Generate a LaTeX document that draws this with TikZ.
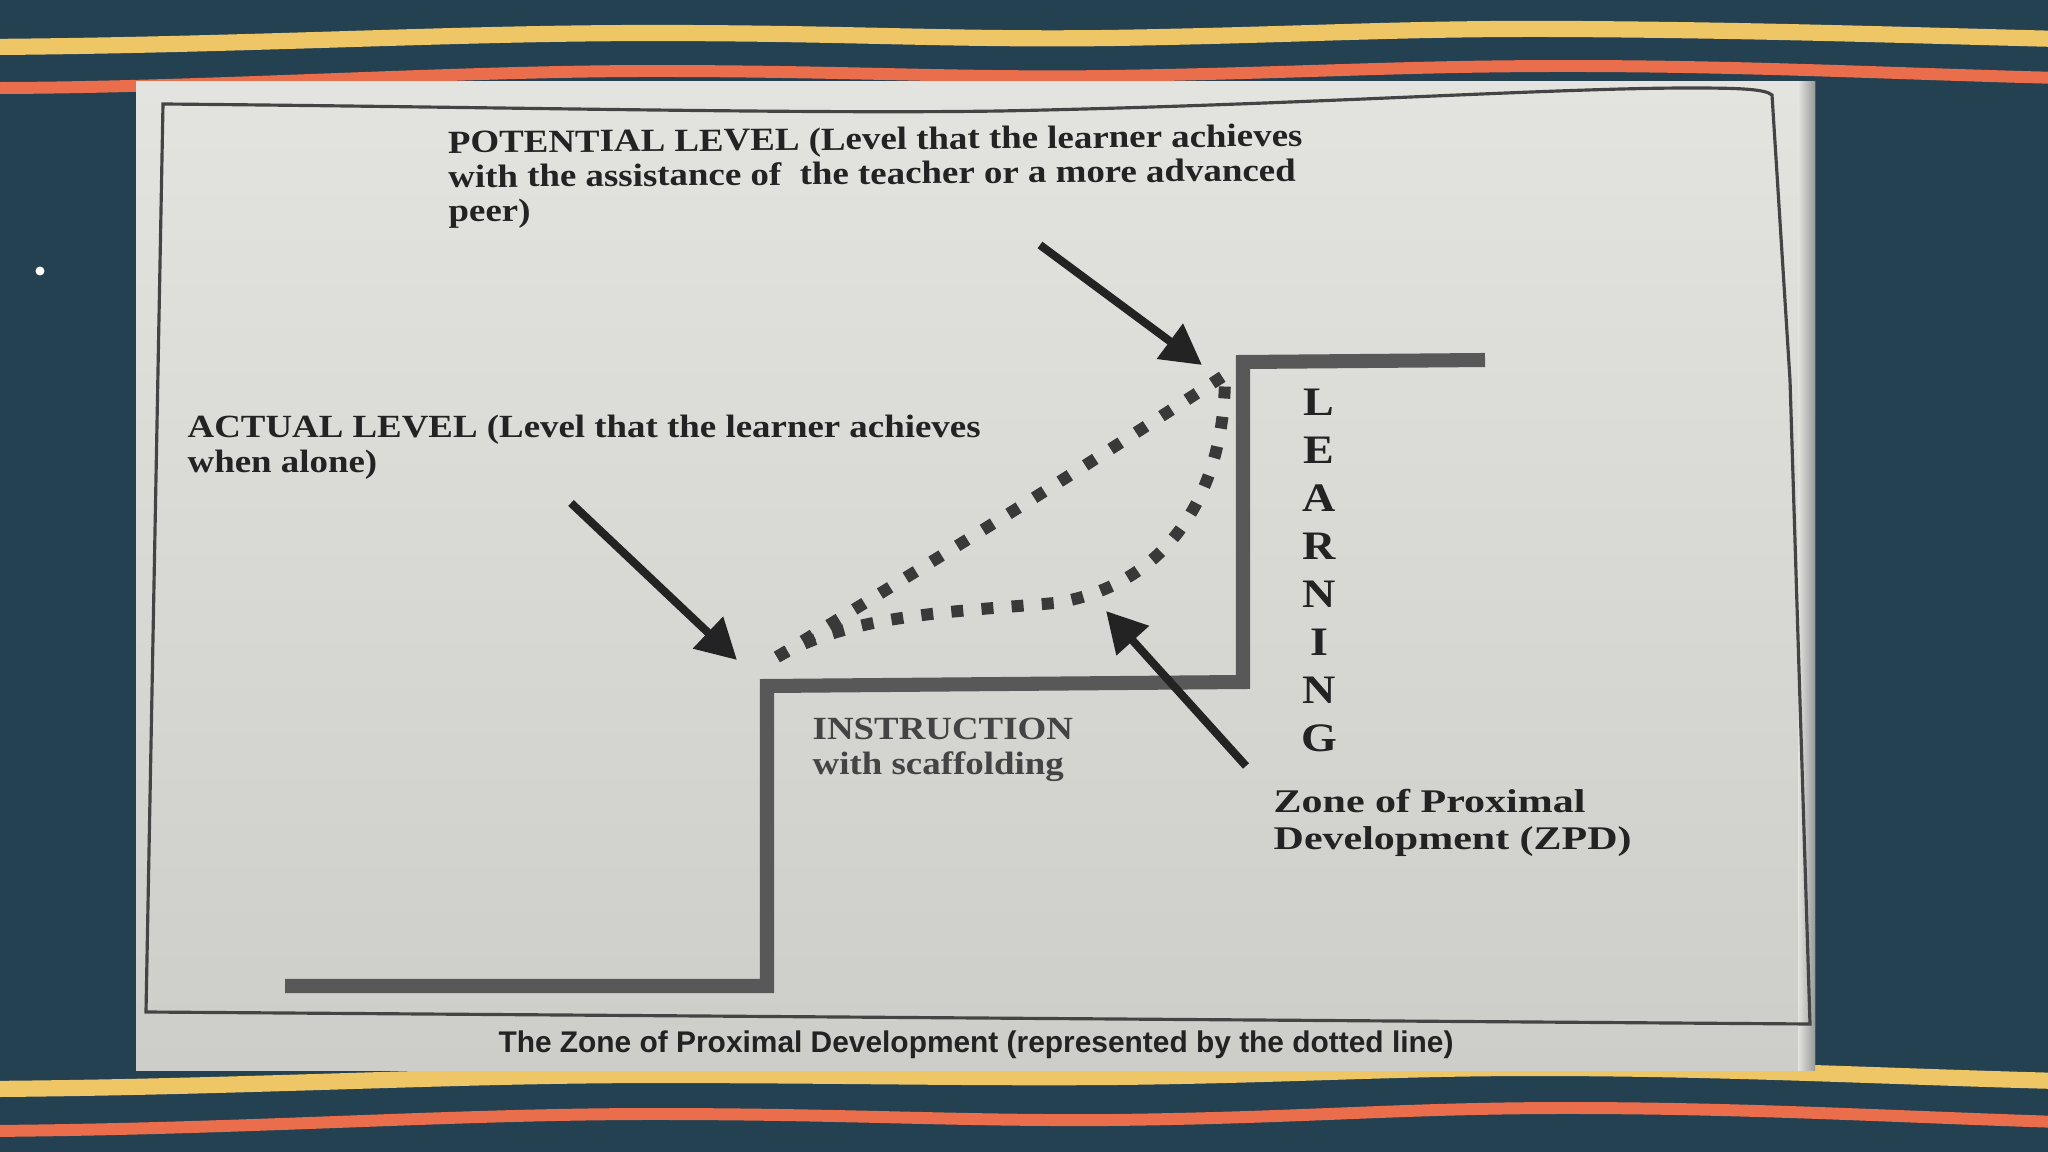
\documentclass[tikz,border=0pt]{standalone}
\usepackage{fontspec}
\setmainfont{Liberation Serif}
\newfontfamily\bookfont[FakeStretch=1.14]{Liberation Serif}
\newfontfamily\zonefont[FakeStretch=1.27]{Liberation Serif}
\newfontfamily\capfont{Liberation Sans}
\usetikzlibrary{arrows.meta}

\definecolor{slidenavy}{RGB}{36,65,82}
\definecolor{waveyellow}{RGB}{238,198,102}
\definecolor{waveorange}{RGB}{234,110,76}
\definecolor{paperlight}{RGB}{227,227,223}
\definecolor{paperdark}{RGB}{205,205,201}
\definecolor{inkblack}{RGB}{35,35,35}
\definecolor{stepgray}{RGB}{88,88,88}

\tikzset{
	booklabel/.style={font=\bookfont\bfseries\fontsize{9.2}{9.8}\selectfont, align=left, inner sep=0pt, text=inkblack},
	zonelabel/.style={font=\zonefont\bfseries\fontsize{9.4}{10.5}\selectfont, align=left, inner sep=0pt, text=inkblack},
	learnlabel/.style={font=\bookfont\bfseries\fontsize{11.5}{13.66}\selectfont, align=center, inner sep=0pt, text=inkblack},
	pointer/.style={draw=inkblack, line width=2.3pt, -{Triangle[length=0.4cm,width=0.42cm]}},
	stairline/.style={draw=stepgray, line width=4pt, line join=miter},
	zpddots/.style={draw=inkblack!90, line width=3.4pt, dash pattern=on 3.4pt off 5.2pt},
	wave/.style={line width=#1, line cap=round}
}

\begin{document}
\begin{tikzpicture}[x=0.01cm, y=-0.01cm]
	\useasboundingbox (0,0) rectangle (2048,1152);
	\clip (0,0) rectangle (2048,1152);
	\fill[slidenavy] (0,0) rectangle (2048,1152);
	
	% Waves top and bottom
	\draw[wave=4.6pt, waveyellow] (-10,47) .. controls (250,45) and (450,33) .. (653,33) .. controls (850,33) and (950,40) .. (1110,38) .. controls (1300,35) and (1400,28) .. (1567,29) .. controls (1750,30) and (1900,35) .. (2060,39);
	\draw[wave=3.4pt, waveorange] (-10,88) .. controls (200,88) and (450,71) .. (653,71) .. controls (850,71) and (950,78) .. (1110,76) .. controls (1300,73) and (1400,66) .. (1567,66) .. controls (1750,66) and (1900,74) .. (2060,78);
	\draw[wave=4.6pt, waveyellow] (-10,1089) .. controls (250,1087) and (450,1075) .. (653,1075) .. controls (850,1075) and (950,1078) .. (1110,1077) .. controls (1300,1075) and (1400,1067) .. (1567,1068) .. controls (1750,1069) and (1900,1077) .. (2060,1081);
	\draw[wave=3.4pt, waveorange] (-10,1131) .. controls (250,1129) and (450,1114) .. (653,1114) .. controls (850,1114) and (950,1121) .. (1110,1120) .. controls (1300,1118) and (1400,1108) .. (1567,1108) .. controls (1750,1108) and (1900,1117) .. (2060,1122);
	
	\node[circle, fill=white, inner sep=0pt, minimum size=9*0.01cm] (Bullet) at (40,271) {};
	
	% Define photo of the page
	\shade[top color=paperlight, bottom color=paperdark] (136,82) rectangle (1815,1070);
	\shade[left color=paperlight, right color=black!40] (1798,82) rectangle (1815,1070);
	\draw[inkblack!85, line width=0.9pt] (163,104) .. controls (500,107) and (800,114) .. (1000,111) .. controls (1300,105) and (1550,88) .. (1690,88) .. controls (1740,88) and (1765,89) .. (1772,95) -- (1790,380) -- (1810,1024) -- (146,1012) -- cycle;
	
	% Define staircase
	\coordinate (StepA) at (285,986);
	\coordinate (StepB) at (767,986);
	\coordinate (StepC) at (767,686);
	\coordinate (StepD) at (1243,682);
	\coordinate (StepE) at (1243,362);
	\coordinate (StepF) at (1485,360);
	
	\draw[stairline] (StepA) -- (StepB) -- (StepC) -- (StepD) -- (StepE) -- (StepF);
	
	% Define dotted zone
	\coordinate (DotStart) at (777,657);
	\coordinate (DotMid) at (1055,603);
	\coordinate (DotEnd) at (1225,375);
	
	\draw[zpddots] (DotStart) .. controls (1040,495) .. (DotEnd);
	\draw[zpddots] (DotStart) .. controls (850,615) and (950,612) .. (DotMid) .. controls (1170,585) and (1225,490) .. (DotEnd);
	
	% Define labels
	\node[booklabel, anchor=base west, rotate=0.45] (PotentialText) at (448,222) {POTENTIAL LEVEL (Level that the learner achieves\\with the assistance of~ the teacher or a more advanced\\peer)};
	\node[booklabel, anchor=base west] (ActualText) at (187,472) {ACTUAL LEVEL (Level that the learner achieves\\when alone)};
	\node[booklabel, anchor=base west, text=inkblack!85] (InstructionText) at (812,774) {INSTRUCTION\\with scaffolding};
	\node[zonelabel, anchor=base west] (ZoneText) at (1273,849) {Zone of Proximal\\Development (ZPD)};
	\node[learnlabel, anchor=north] (LearningText) at (1319,388) {L\\E\\A\\R\\N\\I\\N\\G};
	\node[font=\capfont\bfseries\fontsize{8.5}{10}\selectfont, text=inkblack, inner sep=0pt] (CaptionText) at (976,1045) {The Zone of Proximal Development (represented by the dotted line)};
	
	% Define arrows
	\coordinate (PotentialTail) at (1040,245);
	\coordinate (PotentialTip) at (1202,365);
	\coordinate (ActualTail) at (571,503);
	\coordinate (ActualTip) at (737,660);
	\coordinate (ZoneTail) at (1246,766);
	\coordinate (ZoneTip) at (1106,611);
	
	\draw[pointer] (PotentialTail) -- (PotentialTip);
	\draw[pointer] (ActualTail) -- (ActualTip);
	\draw[pointer] (ZoneTail) -- (ZoneTip);
\end{tikzpicture}
\end{document}
